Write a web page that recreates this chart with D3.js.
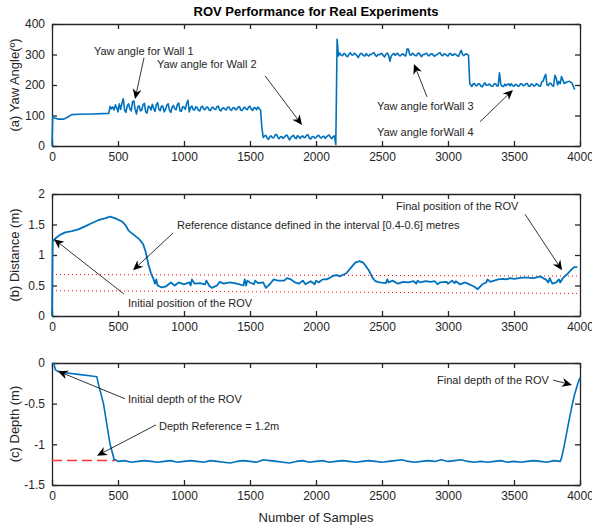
<!DOCTYPE html>
<html>
<head>
<meta charset="utf-8">
<script src="https://cdn.jsdelivr.net/npm/d3@7"></script>
<style>
    body { margin: 0; background: #fff; }
    svg { font-family: "Liberation Sans", Arial, sans-serif; }
</style>
</head>
<body>
<svg width="592" height="527"></svg>
<script>
// ---- data ----
const xTicks = [0, 500, 1000, 1500, 2000, 2500, 3000, 3500, 4000];
const yawTicks = [0, 100, 200, 300, 400];
const distTicks = [0, 0.5, 1, 1.5, 2];
const depthTicks = [0, -0.5, -1, -1.5];

// yaw angle, hand read (walls sampled every 10)
const yawStart = [[0, 0], [5, 95], [20, 92], [50, 88], [90, 88], [120, 95], [150, 103], [200, 104], [300, 105], [430, 107]];
const yawWall1 = [130, 122, 128, 118, 135, 125, 112, 138, 120, 140,
                  155, 118, 110, 132, 138, 122, 115, 145, 148, 120,
                  105, 128, 132, 115, 118, 136, 140, 112, 108, 130,
                  128, 118, 137, 124, 113, 135, 142, 120, 116, 131,
                  130, 112, 120, 134, 138, 118, 110, 127, 133, 122,
                  119, 136, 141, 115, 114, 129, 128, 120, 140, 150,
                  112, 126, 131, 119, 118, 129, 126, 117, 115, 128,
                  130, 121, 119, 127, 128, 118, 116, 126, 127, 121,
                  120, 129, 131, 118, 115, 124, 125, 121, 118, 127,
                  128, 120, 117, 125, 126, 119, 120, 128, 129, 118,
                  116, 124, 127, 121, 119, 128, 130, 120, 117, 126,
                  125, 119, 128, 122, 118];
const yawWall2 = [28, 33, 35, 26, 22, 31, 33, 27, 27, 36,
                  38, 29, 24, 30, 31, 25, 29, 34, 36, 27,
                  20, 28, 32, 35, 27, 24, 34, 30, 25, 31,
                  33, 27, 29, 36, 37, 25, 23, 30, 31, 26,
                  28, 33, 35, 29, 26, 31, 32, 25, 30, 34,
                  36, 28, 24, 31, 33];
const yawWall3 = [305, 298, 296, 303, 302, 295, 293, 301, 306, 299,
                  298, 304, 301, 296, 290, 299, 304, 302, 297, 295,
                  303, 298, 295, 301, 300, 304, 306, 297, 294, 300,
                  299, 303, 303, 296, 292, 301, 305, 297, 278, 295,
                  300, 304, 297, 302, 304, 296, 296, 301, 302, 297,
                  295, 318, 318, 299, 298, 304, 301, 297, 296, 303,
                  305, 298, 293, 300, 300, 303, 304, 296, 297, 302,
                  302, 297, 294, 299, 300, 305, 306, 298, 296, 302,
                  301, 297, 295, 303, 303, 298, 298, 302, 300, 296,
                  294, 305, 314, 300, 296, 301, 302];
const yawWall4 = [195, 203, 205, 198, 198, 204, 203, 196, 194, 202,
                  207, 199, 199, 203, 201, 196, 196, 204, 204, 197,
                  197, 240, 202, 196, 195, 203, 198, 201, 204, 197,
                  204, 198, 196, 202, 201, 196, 197, 204, 203, 198,
                  199, 204, 205, 197, 196, 203, 202, 197, 198, 204,
                  201, 197, 196, 210, 212, 225, 235, 200, 198, 206,
                  205, 198, 196, 232, 222, 200, 212, 204, 228];
const yawEnd = [[3880, 205], [3900, 210], [3920, 212], [3940, 206], [3960, 185]];

const distance = [[0, 0], [5, 1.22], [30, 1.28], [60, 1.33], [100, 1.37], [150, 1.39], [200, 1.42], [250, 1.47], [300, 1.52],
    [350, 1.57], [400, 1.6], [440, 1.63], [480, 1.6], [530, 1.55], [560, 1.48], [580, 1.4], [620, 1.33], [660, 1.26],
    [690, 1.18], [710, 1.05], [730, 0.85], [750, 0.7], [770, 0.6], [780, 0.53], [790, 0.6], [800, 0.5], [830, 0.47],
    [860, 0.48], [900, 0.55], [930, 0.5], [960, 0.55], [1000, 0.52], [1040, 0.55], [1050, 0.5], [1060, 0.6], [1080, 0.53],
    [1120, 0.54], [1160, 0.52], [1170, 0.58], [1190, 0.5], [1210, 0.46], [1250, 0.5], [1270, 0.56], [1300, 0.53],
    [1350, 0.55], [1400, 0.53], [1450, 0.5], [1460, 0.6], [1470, 0.5], [1480, 0.58], [1500, 0.55], [1530, 0.52],
    [1540, 0.58], [1560, 0.54], [1600, 0.55], [1620, 0.46], [1650, 0.52], [1680, 0.6], [1710, 0.58], [1760, 0.58],
    [1780, 0.62], [1810, 0.6], [1840, 0.55], [1870, 0.53], [1900, 0.58], [1920, 0.52], [1960, 0.57], [1990, 0.52],
    [2000, 0.58], [2020, 0.55], [2050, 0.6], [2080, 0.6], [2100, 0.62], [2130, 0.66], [2160, 0.67], [2180, 0.65],
    [2210, 0.68], [2230, 0.7], [2260, 0.78], [2300, 0.88], [2330, 0.9], [2360, 0.87], [2400, 0.75], [2430, 0.62],
    [2450, 0.57], [2480, 0.55], [2530, 0.54], [2540, 0.6], [2550, 0.55], [2580, 0.58], [2620, 0.53], [2660, 0.56],
    [2700, 0.55], [2740, 0.57], [2760, 0.53], [2770, 0.58], [2790, 0.55], [2830, 0.57], [2870, 0.56], [2900, 0.57],
    [2920, 0.52], [2940, 0.55], [2990, 0.56], [3000, 0.53], [3030, 0.58], [3050, 0.54], [3060, 0.57], [3090, 0.52],
    [3130, 0.55], [3150, 0.53], [3200, 0.48], [3225, 0.44], [3260, 0.52], [3290, 0.55], [3300, 0.6], [3320, 0.56],
    [3350, 0.58], [3380, 0.6], [3420, 0.61], [3440, 0.6], [3470, 0.62], [3500, 0.61], [3560, 0.63], [3600, 0.63],
    [3650, 0.62], [3700, 0.65], [3720, 0.62], [3740, 0.6], [3760, 0.55], [3770, 0.62], [3790, 0.53], [3820, 0.55],
    [3840, 0.6], [3850, 0.55], [3870, 0.62], [3900, 0.68], [3930, 0.75], [3955, 0.8], [3980, 0.8]];
const distRefUpper = [[0, 0.68], [4000, 0.655]];
const distRefLower = [[0, 0.415], [4000, 0.37]];

const depthStart = [[0, 0], [15, -0.01], [25, -0.08], [40, -0.1], [100, -0.12], [200, -0.14], [300, -0.16], [340, -0.17],
    [350, -0.25], [390, -0.5], [440, -1.0], [470, -1.18]];
const depthHold = [-1.21, -1.20, -1.22, -1.21, -1.20, -1.21, -1.22, -1.21, -1.20, -1.22,
                   -1.21, -1.20, -1.21, -1.22, -1.20, -1.21, -1.22, -1.23, -1.21, -1.20,
                   -1.21, -1.22, -1.19, -1.20, -1.21, -1.22, -1.23, -1.21, -1.20, -1.22,
                   -1.21, -1.20, -1.22, -1.21, -1.20, -1.21, -1.22, -1.21, -1.20, -1.21,
                   -1.22, -1.21, -1.20, -1.19, -1.21, -1.22, -1.21, -1.20, -1.21, -1.19,
                   -1.21, -1.20, -1.19, -1.21, -1.22, -1.21, -1.22, -1.21, -1.20, -1.22,
                   -1.21, -1.22, -1.21, -1.20, -1.21, -1.22, -1.20, -1.21];
const depthEnd = [[3860, -1.17], [3880, -1.02], [3900, -0.85], [3920, -0.68], [3940, -0.52], [3960, -0.38], [3980, -0.27], [4000, -0.18]];
const depthRef = [[0, -1.2], [480, -1.2]];

// annotations: text anchor and arrow tail -> head, in data units
const yawNotes = [
    { text: "Yaw angle for Wall 1", tx: 318, ty: 298, from: [697, 289], to: [629, 154] },
    { text: "Yaw angle for Wall 2", tx: 795, ty: 256, from: [1614, 230], to: [1894, 69] },
    { text: "Yaw angle forWall 3", tx: 2462, ty: 118, from: [2841, 161], to: [2742, 269] },
    { text: "Yaw angle forWall 4", tx: 2462, ty: 33, from: [3242, 79], to: [3492, 184] }
];
const distNotes = [
    { text: "Reference distance defined in the interval [0.4-0.6] metres", tx: 947, ty: 1.43, from: [917, 1.36], to: [614, 0.75] },
    { text: "Initial position of the ROV", tx: 576, ty: 0.15, from: [545, 0.36], to: [15, 1.26] },
    { text: "Final position of the ROV", tx: 2606, ty: 1.74, from: [3583, 1.67], to: [3864, 0.75] }
];
const depthNotes = [
    { text: "Initial depth of the ROV", tx: 576, ty: -0.49, from: [553, -0.44], to: [45, -0.1] },
    { text: "Depth Reference = 1.2m", tx: 811, ty: -0.82, from: [788, -0.76], to: [341, -1.14] },
    { text: "Final depth of the ROV", tx: 2917, ty: -0.26, from: [3795, -0.21], to: [3939, -0.27] }
];

function seg(start, step, vals) {
    return vals.map((v, i) => [start + i * step, v]);
}

const yaw = [].concat(
    yawStart,
    seg(440, 10, yawWall1),
    [[1590, 60]],
    seg(1600, 10, yawWall2),
    [[2150, 5], [2160, 350], [2170, 295]],
    seg(2180, 10, yawWall3),
    [[3155, 298], [3165, 205]],
    seg(3180, 10, yawWall4),
    yawEnd
);
const depth = [].concat(depthStart, seg(500, 50, depthHold), depthEnd);

// ---- drawing ----
const svg = d3.select("svg");
const left = 52, right = 580;
const axisColor = "#262626";
const blue = "#0072BD";

const x = d3.scaleLinear().domain([0, 4000]).range([left, right]);

svg.append("text")
    .attr("x", 316)
    .attr("y", 16)
    .attr("text-anchor", "middle")
    .attr("font-size", "13px")
    .attr("font-weight", "bold")
    .attr("fill", "#000")
    .text("ROV Performance for Real Experiments");

function drawPanel(top, bottom, domain, ticks, label, labelY) {
    const y = d3.scaleLinear().domain(domain).range([bottom, top]);
    const g = svg.append("g");

    g.append("g")
        .attr("transform", `translate(0,${bottom})`)
        .call(d3.axisBottom(x).tickValues(xTicks).tickSize(-5).tickSizeOuter(0).tickPadding(6).tickFormat(d => String(d)));
    g.append("g")
        .attr("transform", `translate(0,${top})`)
        .call(d3.axisTop(x).tickValues(xTicks).tickSize(-5).tickSizeOuter(0).tickFormat(""));
    g.append("g")
        .attr("transform", `translate(${left},0)`)
        .call(d3.axisLeft(y).tickValues(ticks).tickSize(-5).tickSizeOuter(0).tickPadding(7).tickFormat(d => String(d)));
    g.append("g")
        .attr("transform", `translate(${right},0)`)
        .call(d3.axisRight(y).tickValues(ticks).tickSize(-5).tickSizeOuter(0).tickFormat(""));

    g.selectAll(".domain").attr("stroke", axisColor).attr("stroke-width", 1.3);
    g.selectAll(".tick line").attr("stroke", axisColor).attr("stroke-width", 1.3);
    g.selectAll(".tick text")
        .attr("fill", axisColor)
        .attr("font-size", "12px")
        .attr("font-family", "Liberation Sans, Arial, sans-serif");

    svg.append("text")
        .attr("transform", `translate(19,${labelY}) rotate(-90)`)
        .attr("text-anchor", "middle")
        .attr("font-size", "13px")
        .attr("fill", axisColor)
        .text(label);

    return y;
}

function drawLine(data, y, color, width, dash) {
    const line = d3.line().x(d => x(d[0])).y(d => y(d[1]));
    svg.append("path")
        .datum(data)
        .attr("d", line)
        .attr("fill", "none")
        .attr("stroke", color)
        .attr("stroke-width", width)
        .attr("stroke-dasharray", dash || null)
        .attr("stroke-linejoin", "round");
}

function drawNotes(notes, y) {
    notes.forEach(n => {
        const x1 = x(n.from[0]), y1 = y(n.from[1]);
        const x2 = x(n.to[0]), y2 = y(n.to[1]);
        const ang = Math.atan2(y2 - y1, x2 - x1);
        const len = 10, hw = 4.5;
        const bx = x2 - len * Math.cos(ang), by = y2 - len * Math.sin(ang);
        const nx = x2 - 0.7 * len * Math.cos(ang), ny = y2 - 0.7 * len * Math.sin(ang);
        svg.append("line")
            .attr("x1", x1).attr("y1", y1)
            .attr("x2", nx).attr("y2", ny)
            .attr("stroke", "#000")
            .attr("stroke-width", 0.8);
        const p = [
            [x2, y2],
            [bx + hw * Math.sin(ang), by - hw * Math.cos(ang)],
            [nx, ny],
            [bx - hw * Math.sin(ang), by + hw * Math.cos(ang)]
        ];
        svg.append("path")
            .attr("d", "M" + p.map(q => q.join(",")).join("L") + "Z")
            .attr("fill", "#000");
        svg.append("text")
            .attr("x", x(n.tx))
            .attr("y", y(n.ty))
            .attr("font-size", "11px")
            .attr("fill", "#262626")
            .text(n.text);
    });
}

// (a) yaw
const yYaw = drawPanel(24, 146, [0, 400], yawTicks, "(a) Yaw Angle(\u00ba)", 85);
drawLine(yaw, yYaw, blue, 1.6);
drawNotes(yawNotes, yYaw);

// (b) distance
const yDist = drawPanel(194, 316, [0, 2], distTicks, "(b) Distance (m)", 255);
drawLine(distRefUpper, yDist, "#ff0000", 1, "1,3");
drawLine(distRefLower, yDist, "#ff0000", 1, "1,3");
drawLine(distance, yDist, blue, 1.8);
drawNotes(distNotes, yDist);

// (c) depth
const yDepth = drawPanel(363, 485, [-1.5, 0], depthTicks, "(c) Depth (m)", 424);
drawLine(depthRef, yDepth, "#ff3333", 1.5, "10,5");
drawLine(depth, yDepth, blue, 1.6);
drawNotes(depthNotes, yDepth);

svg.append("text")
    .attr("x", 316)
    .attr("y", 522)
    .attr("text-anchor", "middle")
    .attr("font-size", "13px")
    .attr("fill", axisColor)
    .text("Number of Samples");
</script>
</body>
</html>
